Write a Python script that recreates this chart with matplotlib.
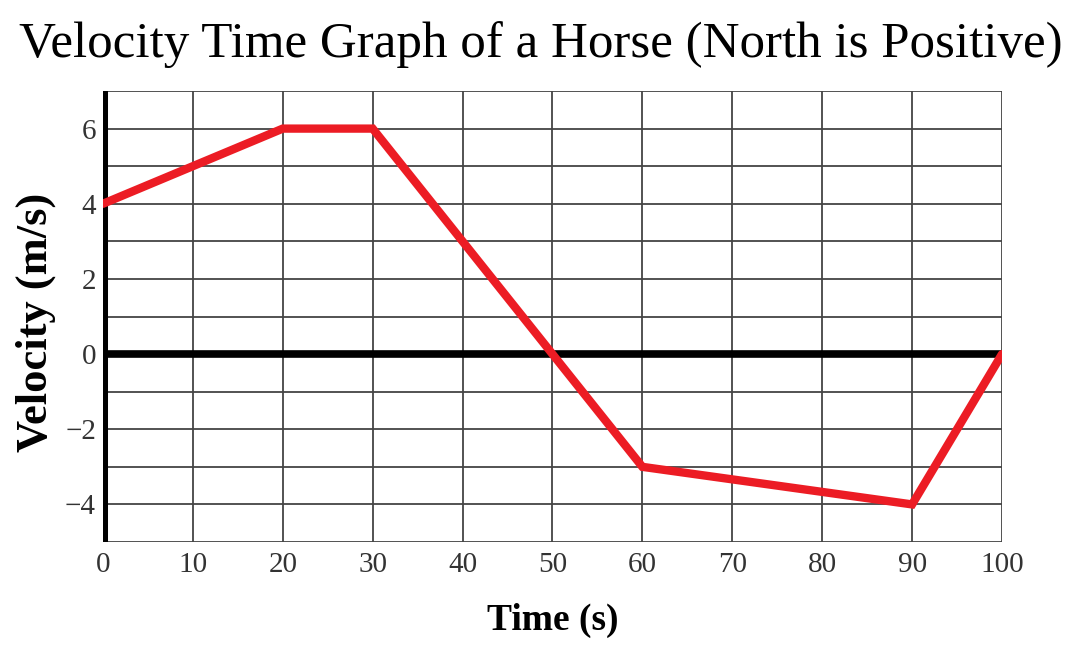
import matplotlib
matplotlib.use("Agg")
import matplotlib.pyplot as plt

# velocity-time data
times = [0, 20, 30, 60, 90, 100]
velocity = [4, 6, 6, -3, -4, 0]

x_ticks = [0, 10, 20, 30, 40, 50, 60, 70, 80, 90, 100]
y_ticks = [-4, -2, 0, 2, 4, 6]
y_labels = ["\u22124", "\u22122", "0", "2", "4", "6"]

fig = plt.figure(figsize=(10.78, 6.52), dpi=100)
ax = fig.add_axes([0.0955, 0.1687, 0.834, 0.6917])

ax.set_xlim(0, 100)
ax.set_ylim(-5, 7)

# grid: every 10 s and every 1 m/s
for x in range(0, 101, 10):
    ax.axvline(x, color="#444444", lw=1.3, zorder=1)
for y in range(-5, 8):
    ax.axhline(y, color="#444444", lw=1.3, zorder=1)

ax.axhline(0, color="black", lw=5.5, zorder=2)
ax.axvline(0, color="black", lw=6.5, zorder=2)

ax.plot(times, velocity, color="#ec1c24", lw=6, solid_joinstyle="miter",
        solid_capstyle="round", zorder=3)

for s in ax.spines.values():
    s.set_visible(False)

ax.set_xticks(x_ticks)
ax.set_xticklabels([str(t) for t in x_ticks])
ax.set_yticks(y_ticks)
ax.set_yticklabels(y_labels)
ax.tick_params(length=0, labelsize=21, colors="#333333")
ax.tick_params(axis="x", pad=7)
ax.tick_params(axis="y", pad=5)
for lab in ax.get_xticklabels() + ax.get_yticklabels():
    lab.set_family("Liberation Serif")

ax.set_xlabel("Time (s)", family="Liberation Serif", fontweight="bold",
              fontsize=27, labelpad=18)
ax.set_ylabel("Velocity (m/s)", family="Liberation Serif", fontweight="bold",
              fontsize=32)
ax.yaxis.set_label_coords(-0.052, 0.486)
fig.text(0.502, 1 - 57 / 652, "Velocity Time Graph of a Horse (North is Positive)",
         family="Liberation Serif", fontsize=36.7, ha="center", va="baseline")

fig.savefig("out.png", dpi=100)
